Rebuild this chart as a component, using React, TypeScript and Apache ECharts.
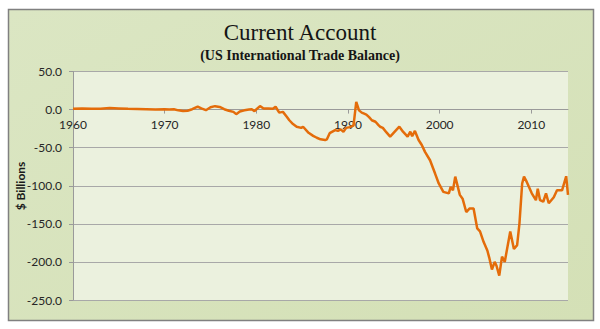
import React, { useEffect, useRef } from "react";
import * as echarts from "echarts";

const years = [
  1960.0, 1961.0, 1962.0, 1963.0, 1964.0, 1965.0, 1966.0, 1967.0, 1968.0, 1969.0,
  1970.0, 1970.5, 1971.0, 1971.5, 1972.0, 1972.5, 1973.0, 1973.6, 1974.0, 1974.5,
  1975.0, 1975.5, 1976.0, 1976.5, 1977.0, 1977.5, 1977.8, 1978.2, 1978.7, 1979.2,
  1979.5, 1979.8, 1980.4, 1980.8, 1981.3, 1981.8, 1982.1, 1982.5, 1982.9, 1983.3,
  1983.6, 1984.0, 1984.4, 1984.9, 1985.1, 1985.7, 1986.2, 1986.6, 1987.0, 1987.5,
  1987.7, 1988.0, 1988.3, 1988.6, 1988.9, 1989.2, 1989.5, 1989.8, 1990.2, 1990.6,
  1990.9, 1991.2, 1991.5, 1991.7, 1992.0, 1992.3, 1992.6, 1993.0, 1993.3, 1993.5,
  1993.8, 1994.2, 1994.6, 1995.1, 1995.6, 1996.0, 1996.5, 1996.8, 1997.0, 1997.3,
  1997.7, 1998.05, 1998.4, 1998.95, 1999.5, 1999.9, 2000.4, 2001.0, 2001.2, 2001.45,
  2001.7, 2002.2, 2002.5, 2002.9, 2003.25, 2003.7, 2004.1, 2004.4, 2004.8, 2005.2,
  2005.4, 2005.7, 2006.0, 2006.2, 2006.5, 2006.8, 2007.1, 2007.7, 2008.1, 2008.45,
  2008.7, 2009.0, 2009.2, 2009.5, 2010.05, 2010.5, 2010.7, 2010.95, 2011.3, 2011.6,
  2011.9, 2012.45, 2012.8, 2013.35, 2013.8, 2014.0,
];

const balance = [
  1.0, 1.5, 1.0, 1.2, 2.0, 1.5, 1.0, 0.8, 0.5, 0.2,
  0.5, 0.0, 0.5, -1.0, -2.0, -1.5, 0.5, 4.0, 1.5, -0.8,
  3.0, 4.5, 3.5, 0.5, -1.5, -3.0, -6.0, -2.5, -1.0, 0.0,
  0.5, -2.0, 4.5, 1.5, 1.5, 1.0, 3.7, -4.0, -3.0, -9.0,
  -14.0, -19.0, -22.5, -24.0, -22.5, -30.5, -34.5, -37.0, -39.0, -40.0,
  -39.0, -31.0, -29.0, -27.0, -28.0, -26.0, -29.0, -24.0, -23.0, -21.0,
  10.0, -1.0, -4.0, -5.0, -6.5, -10.0, -14.0, -16.0, -20.0, -22.5,
  -24.0, -30.0, -35.5, -29.0, -22.5, -29.0, -35.5, -29.0, -35.0, -28.0,
  -40.0, -46.5, -55.5, -66.5, -84.0, -97.0, -108.0, -110.0, -101.5, -106.0,
  -88.0, -112.0, -117.0, -134.5, -130.0, -130.0, -156.0, -160.0, -174.0, -185.0,
  -194.0, -210.0, -200.0, -205.0, -218.0, -193.0, -200.0, -160.0, -183.0, -178.0,
  -150.0, -97.0, -88.0, -95.0, -110.0, -119.0, -104.0, -119.0, -121.0, -110.0,
  -123.0, -115.0, -106.0, -106.0, -87.5, -112.0,
];

const yTicks = { min: -250, max: 50, step: 50 };
const xTicks = { min: 1960, max: 2014, step: 10 };

const titleText = "Current Account";
const subtitleText = "(US International Trade Balance)";
const yAxisLabel = "$ Billions";

const GRID_TOP = 71.5;
const GRID_BOTTOM = 29;
const CHART_H = 329;

export default function App() {
  const ref = useRef<HTMLDivElement>(null);

  useEffect(() => {
    document.body.style.margin = "0";
    if (!ref.current) return;
    const chart = echarts.init(ref.current, null, { renderer: "svg" });
    const data = years.map((y, i) => [y, balance[i]]);
    const gridH = CHART_H - GRID_TOP - GRID_BOTTOM;
    // distance from plot bottom up to the zero line, derived from the y range
    const zeroOffset = (gridH * (0 - yTicks.min)) / (yTicks.max - yTicks.min);
    chart.setOption({
      animation: false,
      title: [
        {
          text: titleText,
          left: "center",
          top: 16,
          textStyle: {
            fontFamily: "Liberation Serif",
            fontSize: 23,
            fontWeight: "normal",
            color: "#151515",
          },
        },
        {
          text: subtitleText,
          left: "center",
          top: 43,
          textStyle: {
            fontFamily: "Liberation Serif",
            fontSize: 14,
            fontWeight: "bold",
            color: "#151515",
          },
        },
      ],
      graphic: [
        {
          type: "rect",
          z: -10,
          silent: true,
          shape: { x: 8.5, y: 9.5, width: 585, height: 311 },
          style: {
            fill: new echarts.graphic.LinearGradient(0, 0, 1, 1, [
              { offset: 0, color: "#dbe6c3" },
              { offset: 1, color: "#d4e0b6" },
            ]),
            stroke: "#808080",
            lineWidth: 1.5,
          },
        },
        {
          type: "text",
          x: 20,
          y: 186,
          rotation: Math.PI / 2,
          style: {
            text: yAxisLabel,
            textAlign: "center",
            textVerticalAlign: "middle",
            font: "bold 12px Lato",
            fill: "#1a1a1a",
          },
        },
      ],
      grid: {
        left: 73,
        right: 32,
        top: GRID_TOP,
        bottom: GRID_BOTTOM,
        show: true,
        backgroundColor: "#ebf1de",
        borderWidth: 0,
      },
      xAxis: {
        type: "value",
        position: "bottom",
        offset: -zeroOffset,
        min: xTicks.min,
        max: xTicks.max,
        interval: xTicks.step,
        axisLine: { onZero: false, lineStyle: { color: "#9a9a9a", width: 1 } },
        axisTick: { show: true, length: 4, lineStyle: { color: "#9a9a9a" } },
        splitLine: { show: false },
        axisLabel: {
          showMaxLabel: false,
          margin: 9,
          fontFamily: "Lato",
          fontSize: 12,
          color: "#262626",
          formatter: (v: number) => String(v),
        },
      },
      yAxis: {
        type: "value",
        min: yTicks.min,
        max: yTicks.max,
        interval: yTicks.step,
        axisLine: { show: true, onZero: false, lineStyle: { color: "#9a9a9a", width: 1 } },
        axisTick: { show: true, length: 4, lineStyle: { color: "#9a9a9a" } },
        splitLine: { show: true, lineStyle: { color: "#a8a8a8", width: 1 } },
        axisLabel: {
          margin: 11,
          fontFamily: "Lato",
          fontSize: 12,
          color: "#262626",
          formatter: (v: number) => v.toFixed(1),
        },
      },
      series: [
        {
          type: "line",
          data,
          showSymbol: false,
          symbol: "none",
          smooth: false,
          lineStyle: { color: "#e46c0a", width: 2.5 },
          z: 3,
        },
      ],
    });
    return () => chart.dispose();
  }, []);

  return <div ref={ref} style={{ width: 600, height: 329 }} />;
}
